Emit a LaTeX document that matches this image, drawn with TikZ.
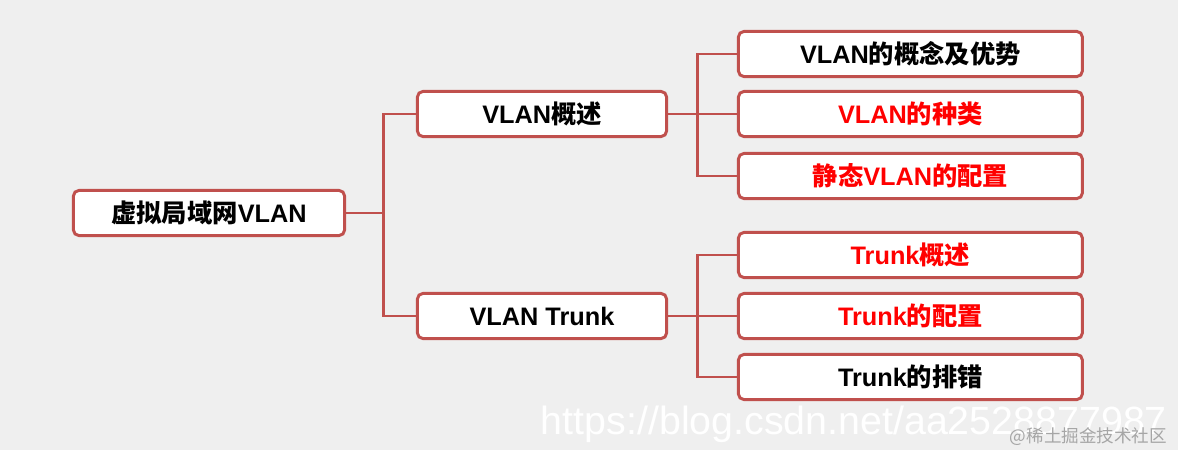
\documentclass[tikz,border=0pt]{standalone}
\usepackage{fontspec}
\setmainfont{Liberation Sans}
\newfontfamily\cjk{Noto Sans CJK SC}
\usetikzlibrary{positioning}
\definecolor{boxred}{RGB}{192,80,77}
\definecolor{bggray}{RGB}{239,239,239}
\newcommand*{\myemph}[1]{\textcolor{red}{#1}}

\begin{document}
\begin{tikzpicture}[
      node distance=2cm,on grid,
      topic/.style={draw=boxred, line width=2.1pt, fill=white, rounded corners=4pt,
        inner sep=0pt, minimum height=1.13cm, font=\fontsize{18}{21}\selectfont\bfseries},
      root/.style={topic, minimum width=6.78cm},
      sub/.style={topic, minimum width=6.23cm},
      leaf/.style={topic, minimum width=8.6cm},
      link/.style={draw=boxred, line width=2.1pt},
      ]

      \fill[bggray] (0,0) rectangle (29.45,-11.25);
      \useasboundingbox (0,0) rectangle (29.45,-11.25);

      \node[root]                     (q_0) at (5.225,-5.325)        {{\cjk 虚拟局域网}VLAN};
      \node[sub]                      (q_1) [above right=2.475cm and 8.325cm of q_0] {VLAN{\cjk 概述}};
      \node[sub]                      (q_2) [below right=2.575cm and 8.325cm of q_0] {VLAN Trunk};

      \node[leaf]                     (q_12) [right=9.21cm of q_1]    {\myemph{VLAN{\cjk 的种类}}};
      \node[leaf]                     (q_11) [above=1.5cm of q_12]    {VLAN{\cjk 的概念及优势}};
      \node[leaf]                     (q_13) [below=1.55cm of q_12]   {\myemph{{\cjk 静态}VLAN{\cjk 的配置}}};

      \node[leaf]                     (q_22) [right=9.21cm of q_2]    {\myemph{Trunk{\cjk 的配置}}};
      \node[leaf]                     (q_21) [above=1.525cm of q_22]  {\myemph{Trunk{\cjk 概述}}};
      \node[leaf]                     (q_23) [below=1.525cm of q_22]  {Trunk{\cjk 的排错}};

      \path[link] (q_0.east) -- ++(0.925,0) coordinate (j_0);
      \path[link] (q_1.west) -| (j_0) |- (q_2.west);

      \path[link] (q_1.east) -- ++(0.725,0) coordinate (j_1);
      \path[link] (q_11.west) -| (j_1) |- (q_13.west);
      \path[link] (j_1) -- (q_12.west);

      \path[link] (q_2.east) -- ++(0.725,0) coordinate (j_2);
      \path[link] (q_21.west) -| (j_2) |- (q_23.west);
      \path[link] (j_2) -- (q_22.west);

      % watermarks
      \node[anchor=base west, text=white, font=\fontsize{28}{30}\selectfont] (w_0) at (13.4,-10.85) {https://blog.csdn.net/aa2528877987};
      \node[anchor=east, text=gray!70, font=\cjk\fontsize{12.5}{14}\selectfont] (w_1) at (29.3,-10.92) {@稀土掘金技术社区};
    \end{tikzpicture}
\end{document}
